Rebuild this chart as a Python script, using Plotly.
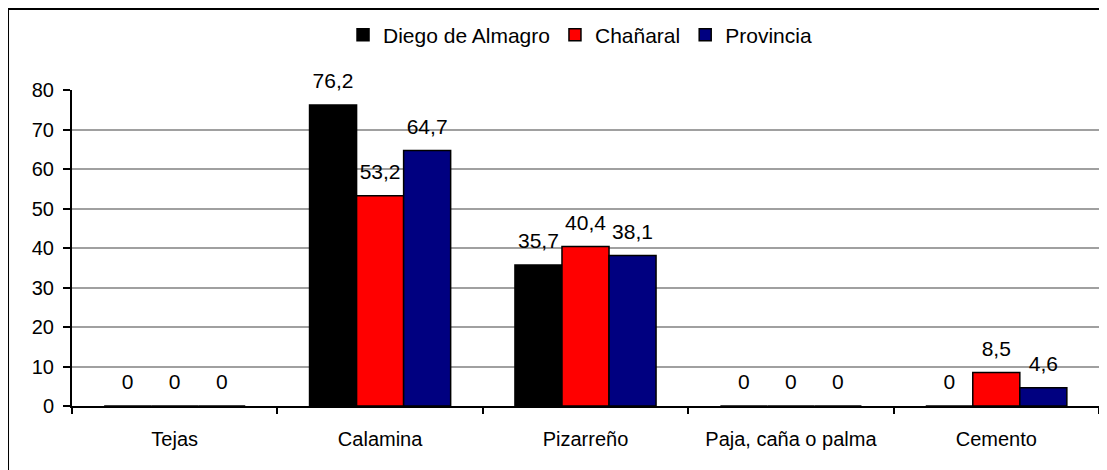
import plotly.graph_objects as go

categorias = ['Tejas', 'Calamina', 'Pizarreño', 'Paja, caña o palma', 'Cemento']
diego_de_almagro = [0, 76.2, 35.7, 0, 0]
chanaral = [0, 53.2, 40.4, 0, 8.5]
provincia = [0, 64.7, 38.1, 0, 4.6]

series = [
    ('Diego de Almagro', diego_de_almagro, '#000000'),
    ('Chañaral', chanaral, '#ff0000'),
    ('Provincia', provincia, '#000080'),
]


def etiqueta(v):
    # coma decimal como en el original
    return ('%g' % v).replace('.', ',')


fig = go.Figure()
for nombre, valores, color in series:
    fig.add_trace(go.Bar(
        name=nombre, x=categorias, y=valores,
        marker=dict(color=color, line=dict(color='black', width=1.5)),
    ))

# etiquetas de datos: marcadores invisibles agrupados igual que las barras,
# así el texto queda algo separado de la barra (como en Excel)
for nombre, valores, color in series:
    fig.add_trace(go.Scatter(
        x=categorias, y=valores, mode='markers+text',
        text=[etiqueta(v) for v in valores], textposition='top center',
        textfont=dict(size=21, color='black'),
        marker=dict(size=17, color='rgba(0,0,0,0)'),
        showlegend=False, hoverinfo='skip', cliponaxis=False,
    ))

# la página html añade 8px de margen, por eso el lienzo es 8px más pequeño
fig.update_layout(
    width=1099, height=462,
    margin=dict(l=64, r=8, t=82, b=64, autoexpand=False),
    paper_bgcolor='white', plot_bgcolor='white',
    font=dict(family='Liberation Sans, Arial', size=20, color='black'),
    barmode='group', bargap=0.313, bargroupgap=0,
    scattermode='group', scattergap=0.313,
    showlegend=True,
    legend=dict(orientation='h', x=0.5205, xanchor='center', xref='container',
                y=0.9416, yanchor='middle', yref='container',
                bgcolor='rgba(0,0,0,0)', font=dict(size=21),
                itemwidth=30, tracegroupgap=0),
    shapes=[dict(type='rect', xref='paper', yref='paper',
                 x0=-0.0623, x1=1.05, y0=-0.5, y1=1.256,
                 line=dict(color='black', width=2), layer='below')],
)

fig.update_xaxes(
    showline=True, linecolor='black', linewidth=2,
    ticks='outside', ticklen=6, tickwidth=2, tickcolor='black',
    tickson='boundaries', ticklabelstandoff=14,
    showgrid=False,
)
fig.update_yaxes(
    range=[0, 80], dtick=10,
    showline=True, linecolor='black', linewidth=2,
    ticks='outside', ticklen=7, tickwidth=2, tickcolor='black',
    showgrid=True, gridcolor='#a0a0a0', gridwidth=1.5,
    zeroline=False, ticklabelstandoff=5,
)

fig.write_html('out.html')
